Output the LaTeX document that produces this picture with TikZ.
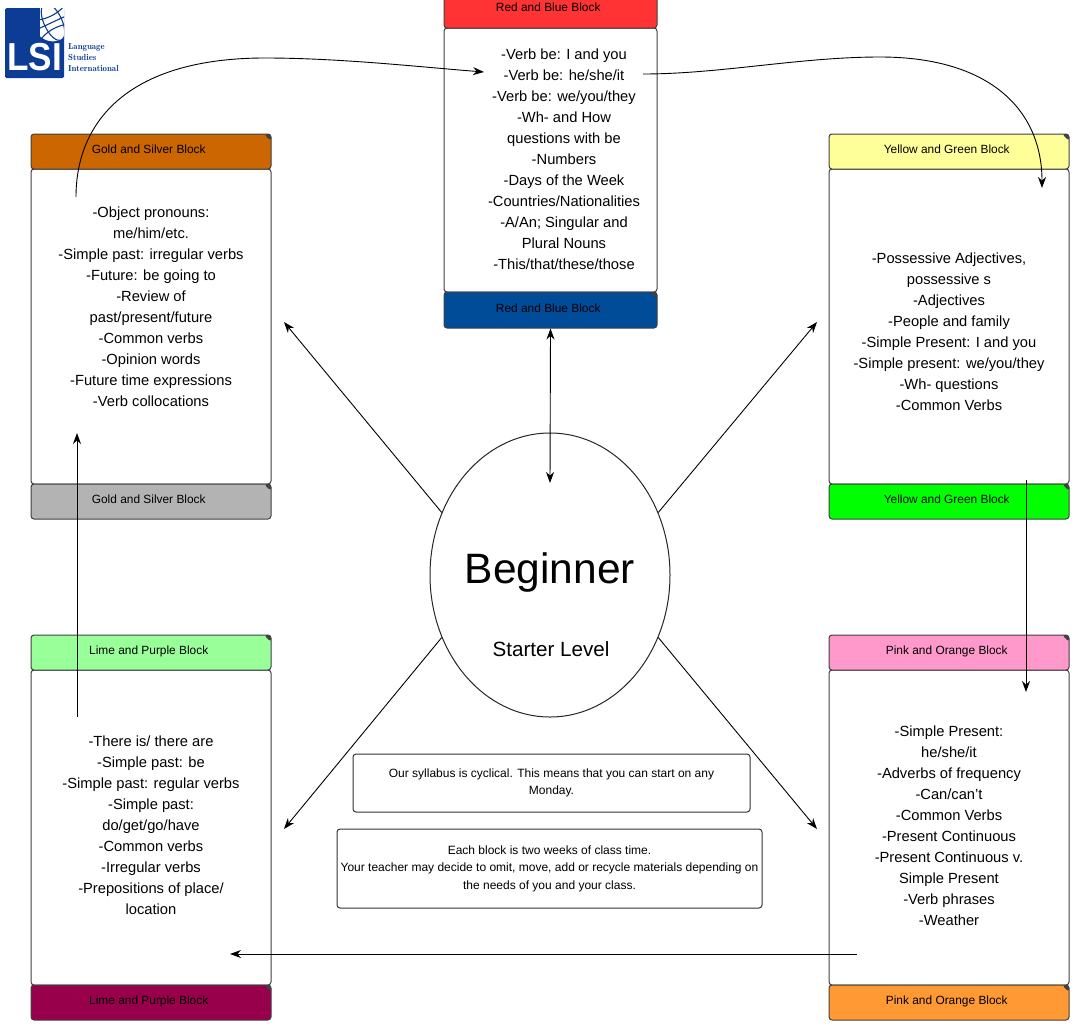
\documentclass[tikz,border=0pt]{standalone}
\usepackage{fontspec}
\setmainfont{Liberation Sans}
\usepackage{tikz}
\usetikzlibrary{arrows, arrows.meta, positioning, shapes.geometric}
\definecolor{goldcolor}{RGB}{204,102,0}
\definecolor{silvercolor}{RGB}{179,179,179}
\definecolor{yellowcolor}{RGB}{255,255,153}
\definecolor{greencolor}{RGB}{0,255,0}
\definecolor{limecolor}{RGB}{153,255,153}
\definecolor{purplecolor}{RGB}{153,0,76}
\definecolor{pinkcolor}{RGB}{255,153,204}
\definecolor{orangecolor}{RGB}{255,153,51}
\definecolor{redcolor}{RGB}{255,51,51}
\definecolor{bluecolor}{RGB}{0,76,153}
\definecolor{logocolor}{RGB}{12,60,150}

\begin{document}
\begin{tikzpicture}[
    x=1pt, y=-1pt,
    band/.style={draw=black!75, line width=1pt, rounded corners=3pt, minimum width=240pt, minimum height=35pt, inner sep=0pt, font=\fontsize{11.9}{15}\selectfont,
        text height=9pt, text depth=5pt, execute at begin node={\hspace*{-4.5pt}},
        path picture={\fill[black!75] (path picture bounding box.north east) -- ++(-7pt,0pt) -- ++(7pt,-7pt) -- cycle;}},
    block/.style={draw=black!75, line width=1pt, rounded corners=3pt, fill=white, minimum width=240pt, minimum height=315pt, inner sep=0pt},
    blocktext/.style={inner sep=0pt, align=center, font=\fontsize{14.7}{21}\selectfont},
    note/.style={draw=black!80, line width=1pt, rounded corners=3pt, fill=white, inner sep=0pt, align=center, font=\fontsize{12}{17.5}\selectfont},
    arrow/.style={-{Stealth[length=11pt, width=8pt]}, line width=0.9pt, black}
]
    \useasboundingbox (0,0) rectangle (1078,1026);

    % Logo
    \fill[logocolor, rounded corners=1.5pt] (5,8) rectangle (64,78);
    \begin{scope}
        \clip (40,8) rectangle (64,41);
        \fill[white] (53,22) circle (20);
        \draw[logocolor, line width=1.1pt] (53,22) circle (20);
        \draw[logocolor, line width=1.1pt, rotate around={25:(53,22)}] (53,22) ellipse (9 and 20);
        \draw[logocolor, line width=1.1pt, rotate around={25:(53,22)}] (33,22) -- (73,22);
        \draw[logocolor, line width=1.1pt, rotate around={25:(53,22)}] (36,12) .. controls (45,17) and (61,17) .. (70,12);
        \draw[logocolor, line width=1.1pt, rotate around={25:(53,22)}] (36,32) .. controls (45,27) and (61,27) .. (70,32);
    \end{scope}
    \node[text=white, inner sep=0pt, xscale=0.9, font=\bfseries\fontsize{39}{39}\selectfont] (lsi) at (34.5,57) {LSI};
    \node[text=logocolor, inner sep=0pt, align=left, anchor=west, font=\fontfamily{lmr}\bfseries\fontsize{8.8}{11}\selectfont] (lsiname) at (68,58) {Language\\Studies\\International};

    % Blocks around the level
    \node[block] (goldbody) at (151,326.5) {};
    \node[blocktext] (goldtext) at (151,306.5) {-Object pronouns:\\me/him/etc.\\-Simple past: irregular verbs\\-Future: be going to\\-Review of\\past/present/future\\-Common verbs\\-Opinion words\\-Future time expressions\\-Verb collocations};
    \node[band, fill=goldcolor] (goldtop) at (151,151.5) {Gold and Silver Block};
    \node[band, fill=silvercolor] (goldbottom) at (151,501.5) {Gold and Silver Block};

    \node[block] (yellowbody) at (949,326.5) {};
    \node[blocktext] (yellowtext) at (949,332) {-Possessive Adjectives,\\possessive s\\-Adjectives\\-People and family\\-Simple Present: I and you\\-Simple present: we/you/they\\-Wh- questions\\-Common Verbs};
    \node[band, fill=yellowcolor] (yellowtop) at (949,151.5) {Yellow and Green Block};
    \node[band, fill=greencolor] (yellowbottom) at (949,501.5) {Yellow and Green Block};

    \node[block] (limebody) at (151,827.5) {};
    \node[blocktext] (limetext) at (151,825.5) {-There is/ there are\\-Simple past: be\\-Simple past: regular verbs\\-Simple past:\\do/get/go/have\\-Common verbs\\-Irregular verbs\\-Prepositions of place/\\location};
    \node[band, fill=limecolor] (limetop) at (151,652.5) {Lime and Purple Block};
    \node[band, fill=purplecolor] (limebottom) at (151,1002.5) {Lime and Purple Block};

    \node[block] (pinkbody) at (949,827.5) {};
    \node[blocktext] (pinktext) at (949,826) {-Simple Present:\\he/she/it\\-Adverbs of frequency\\-Can/can't\\-Common Verbs\\-Present Continuous\\-Present Continuous v.\\Simple Present\\-Verb phrases\\-Weather};
    \node[band, fill=pinkcolor] (pinktop) at (949,652.5) {Pink and Orange Block};
    \node[band, fill=orangecolor] (pinkbottom) at (949,1002.5) {Pink and Orange Block};

    \node[block, minimum width=213pt, minimum height=264pt] (redbody) at (550.5,160) {};
    \node[blocktext] (redtext) at (564,159) {-Verb be: I and you\\-Verb be: he/she/it\\-Verb be: we/you/they\\-Wh- and How\\questions with be\\-Numbers\\-Days of the Week\\-Countries/Nationalities\\-A/An; Singular and\\Plural Nouns\\-This/that/these/those};
    \node[band, fill=redcolor, minimum width=213pt, minimum height=38pt] (redtop) at (550.5,9) {Red and Blue Block};
    \node[band, fill=bluecolor, minimum width=213pt, minimum height=36pt] (redbottom) at (550.5,310) {Red and Blue Block};

    % Level
    \node[draw=black!85, line width=1pt, ellipse, fill=white, minimum width=240pt, minimum height=284pt, inner sep=0pt] (level) at (550,575) {};
    \node[inner sep=0pt, font=\fontsize{42.5}{50}\selectfont] (beginner) at (550,572) {Beginner};
    \node[inner sep=0pt, font=\fontsize{20.6}{24}\selectfont] (starter) at (551,649) {Starter Level};

    % Notes
    \node[note, minimum width=397pt, minimum height=58pt] (cyclenote) at (551.5,783) {Our syllabus is cyclical.  This means that you can start on any\\Monday.};
    \node[note, minimum width=425pt, minimum height=79pt] (timenote) at (549.5,868.5) {Each block is two weeks of class time.\\Your teacher may decide to omit, move, add or recycle materials depending on\\the needs of you and your class.};

    % Free ends of the arrows
    \coordinate (goldend) at (284,322);
    \coordinate (yellowend) at (817,322);
    \coordinate (limeend) at (284,829);
    \coordinate (pinkend) at (817,829);
    \coordinate (redend) at (550,483);
    \coordinate (limestart) at (77,717);
    \coordinate (goldin) at (77,433);
    \coordinate (goldstart) at (76,197);
    \coordinate (goldtopbend) at (265,58);
    \coordinate (redin) at (484,72);
    \coordinate (redstart) at (643,74);
    \coordinate (yellowbend) at (880,57);
    \coordinate (yellowin) at (1042,188);
    \coordinate (yellowstart) at (1026,480);
    \coordinate (pinkin) at (1026,692);
    \coordinate (pinkstart) at (857,954);
    \coordinate (limein) at (230,954);

    % Arrows from the level
    \draw[arrow] (level.150) -- (goldend);
    \draw[arrow] (level.30) -- (yellowend);
    \draw[arrow] (level.210) -- (limeend);
    \draw[arrow] (level.330) -- (pinkend);
    \draw[arrow, {Stealth[length=11pt, width=8pt]}-{Stealth[length=11pt, width=8pt]}] (redbottom.south) -- (redend);

    % Arrows round the cycle
    \draw[arrow] (goldstart) .. controls (76,120) and (130,58) .. (goldtopbend) .. controls (340,58) and (420,67) .. (redin);
    \draw[arrow] (redstart) .. controls (720,74) and (800,57) .. (yellowbend) .. controls (990,57) and (1042,110) .. (yellowin);
    \draw[arrow] (yellowstart) -- (pinkin);
    \draw[arrow] (pinkstart) -- (limein);
    \draw[arrow] (limestart) -- (goldin);
\end{tikzpicture}
\end{document}
